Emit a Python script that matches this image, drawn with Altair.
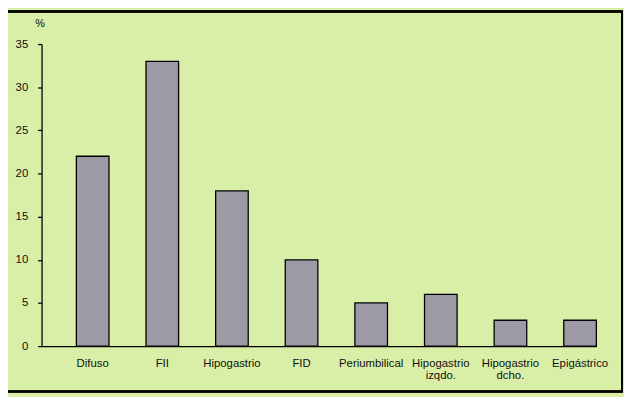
import altair as alt
import pandas as pd

categories = ["Difuso", "FII", "Hipogastrio", "FID", "Periumbilical",
              "Hipogastrio\nizqdo.", "Hipogastrio\ndcho.", "Epigástrico"]
values = [22, 33, 18, 10, 5, 6, 3, 3]

df = pd.DataFrame({"cat": categories, "val": values})

BG = "#d9eea6"
BAR = "#9d9aa5"
FONT = "Liberation Sans"

bars = alt.Chart(df).mark_bar(color=BAR, stroke="black", strokeWidth=1.3).encode(
    x=alt.X("cat:N", sort=categories,
            scale=alt.Scale(paddingInner=0.532, paddingOuter=0.25, align=1),
            axis=alt.Axis(title=None, labelAngle=0, ticks=False, labelPadding=12,
                          labelExpr="split(datum.label, '\\n')",
                          domainColor="black", domainWidth=1.3,
                          labelFont=FONT, labelFontSize=11.5, labelColor="#111111",
                          labelLineHeight=12)),
    y=alt.Y("val:Q",
            scale=alt.Scale(domain=[0, 35], nice=False),
            axis=alt.Axis(title="%", titleAngle=0, titleX=-2, titleY=-21,
                          titleAlign="center", titleBaseline="middle",
                          titleFont=FONT, titleFontSize=11, titleFontWeight="normal",
                          titleColor="#111111",
                          values=[0, 5, 10, 15, 20, 25, 30, 35], grid=False,
                          tickSize=4, tickColor="black", tickWidth=1.3,
                          domainColor="black", domainWidth=1.3, labelPadding=10,
                          labelFont=FONT, labelFontSize=11.5, labelColor="#111111")),
)

frame = alt.Chart(df).mark_rect(fill=None, stroke="black", strokeWidth=1.5).encode(
    x=alt.value(-45), x2=alt.value(588), y=alt.value(-33), y2=alt.value(352)
)

chart = alt.layer(bars, frame).properties(
    width=562, height=306,
    padding={"left": 34, "top": 34, "right": 28, "bottom": 49},
    autosize=alt.AutoSizeParams(type="none"),
    background=BG,
).configure_view(stroke=None)

chart.save("out.html", embed_options={"renderer": "svg", "actions": False})
